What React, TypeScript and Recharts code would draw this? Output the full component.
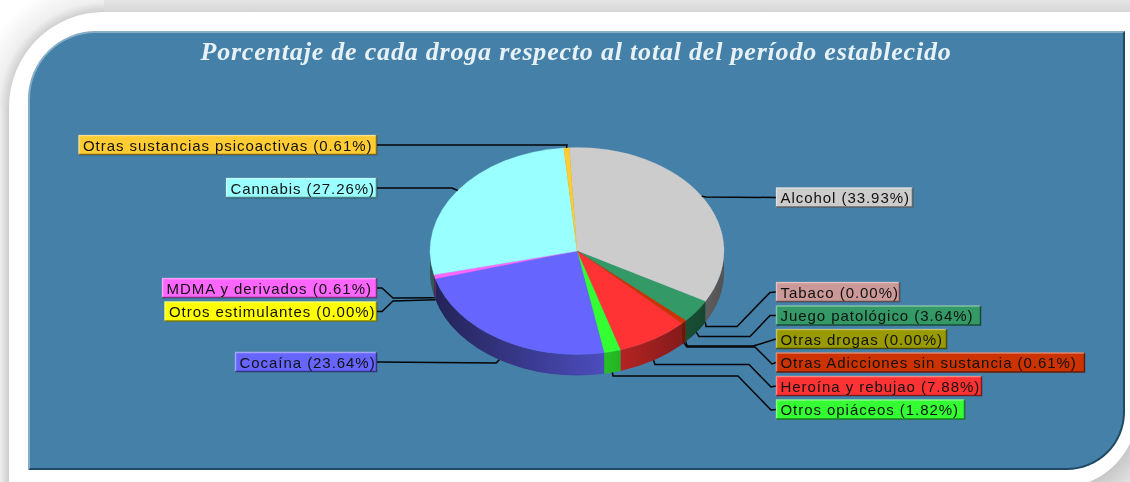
import { PieChart, Pie } from 'recharts'

const drugs = [
  'Alcohol', 'Tabaco', 'Juego patológico', 'Otras drogas', 'Otras Adicciones sin sustancia',
  'Heroína y rebujao', 'Otros opiáceos', 'Cocaína', 'Otros estimulantes', 'MDMA y derivados',
  'Cannabis', 'Otras sustancias psicoactivas',
]
const shares = [33.93, 0, 3.64, 0, 0.61, 7.88, 1.82, 23.64, 0, 0.61, 27.26, 0.61]
const colors = [
  '#cccccc', '#cc9999', '#339966', '#999900', '#cc3300', '#ff3333',
  '#33ff33', '#6666ff', '#ffff00', '#ff66ff', '#99ffff', '#ffcc33',
]

const data = drugs.map((name, i) => ({ name, value: shares[i], color: colors[i] }))

const W = 1130
const H = 482
const CX = 577
const CY = 251
const RX = 147
const RY = 103.5
const DEPTH = 21

// label box: left edge, top, width
const boxes: [number, number, number][] = [
  [776, 187.5, 137], [776, 282, 124], [776, 305.5, 205], [776, 329, 171], [776, 352.5, 309], [776, 376, 206],
  [776, 399.5, 189], [235, 352, 142], [164.5, 301.5, 212.5], [162, 278, 215], [226, 178, 151], [78.5, 135, 298.5],
]
// leader elbows between the slice and its box
const elbows: number[][][] = [
  [[706, 197]],
  [[706, 326.5], [737, 326.5], [770, 292.5]],
  [[699, 336.5], [750, 336.5], [770, 315.5]],
  [[687, 346], [753, 346], [760, 344]],
  [[687, 347], [755, 347], [772, 364]],
  [[655, 364.5], [749, 364.5], [771, 387]],
  [[613, 376], [738, 376], [771, 410]],
  [[496, 363]],
  [[393, 301], [382, 311.5]],
  [[393, 298], [382, 288]],
  [[452, 188]],
  [[567, 145]],
]

const rad = (a: number) => (a * Math.PI) / 180
const px = (a: number) => CX + RX * Math.cos(rad(a))
const py = (a: number) => CY - RY * Math.sin(rad(a))

function shade(hex: string, k: number) {
  const n = parseInt(hex.slice(1), 16)
  const c = [(n >> 16) & 255, (n >> 8) & 255, n & 255].map(v => Math.round(v * k))
  return `rgb(${c.join(',')})`
}

function TopSlice(p: any) {
  const { startAngle, endAngle, payload } = p
  if (startAngle === endAngle) return <g />
  const large = Math.abs(startAngle - endAngle) > 180 ? 1 : 0
  const d = `M${CX},${CY} L${px(startAngle)},${py(startAngle)} A${RX},${RY} 0 ${large} 1 ${px(endAngle)},${py(endAngle)} Z`
  return <path d={d} fill={payload.color} stroke={payload.color} strokeWidth={0.3} />
}

// side wall of the disc, only the part of the slice that faces front
function WallSlice(p: any) {
  const { startAngle, endAngle, payload, index } = p
  if (startAngle === endAngle) return <g />
  const segs: [number, number][] = []
  for (const k of [0, -360]) {
    const a = Math.min(startAngle, 360 + k)
    const b = Math.max(endAngle, 180 + k)
    if (a > b && a <= k + 360 && b >= k + 180) segs.push([a, b])
  }
  const id = `wall-${index}`
  return (
    <g>
      <defs>
        <linearGradient id={id} gradientUnits="userSpaceOnUse" x1={CX - RX} x2={CX + RX} y1={0} y2={0}>
          <stop offset="0" stopColor={shade(payload.color, 0.33)} />
          <stop offset="0.6" stopColor={shade(payload.color, 0.75)} />
          <stop offset="1" stopColor={shade(payload.color, 0.4)} />
        </linearGradient>
      </defs>
      {segs.map(([a, b]) => {
        const d = `M${px(a)},${py(a)} A${RX},${RY} 0 0 1 ${px(b)},${py(b)} L${px(b)},${py(b) + DEPTH} A${RX},${RY} 0 0 0 ${px(a)},${py(a) + DEPTH} Z`
        return <path key={a} d={d} fill={`url(#${id})`} />
      })}
    </g>
  )
}

function BoxLabel(p: any) {
  const { index, midAngle, name, value, payload } = p
  const [x, y, w] = boxes[index]
  const h = 20
  const left = x < CX
  const a = ((midAngle % 360) + 360) % 360
  const drop = a > 180 ? DEPTH : 0
  const pts = [[px(midAngle), py(midAngle) + drop], ...elbows[index], [left ? x + w : x, y + h / 2]]
  return (
    <g>
      <polyline points={pts.map(q => q.join(',')).join(' ')} fill="none" stroke="#050505" strokeWidth={1.5} />
      <rect x={x} y={y} width={w} height={h} fill={payload.color} />
      <path d={`M${x + 0.5},${y + h} V${y + 0.5} H${x + w}`} fill="none" stroke="#fff" strokeOpacity={0.4} strokeWidth={1.5} />
      <path d={`M${x},${y + h - 0.5} H${x + w - 0.5} V${y}`} fill="none" stroke="#000" strokeOpacity={0.5} strokeWidth={1.5} />
      <text x={x + 4.5} y={y + 15.5} fontFamily="Liberation Sans" fontSize={15} letterSpacing={0.95} fill="#111">
        {`${name} (${value.toFixed(2)}%)`}
      </text>
    </g>
  )
}

export default function App() {
  return (
    <div style={{ position: 'fixed', left: 0, top: 0, width: W, height: H, overflow: 'hidden', background: '#fff', filter: 'blur(0.35px)' }}>
      <div style={{ position: 'absolute', left: 104, top: 0, width: W, height: 12, background: 'linear-gradient(#e6e6e6,#d6d6d6)' }} />
      <div style={{ position: 'absolute', left: 0, top: 107, width: 9, height: H, background: 'linear-gradient(90deg,#efefef,#cdcdcd)' }} />
      <div style={{ position: 'absolute', left: 0, top: 0, width: 104, height: 107, background: 'radial-gradient(circle 130px at 104px 107px,#cdcdcd 94px,#efefef 105px,#fff 130px)' }} />
      <div style={{ position: 'absolute', left: 9, top: 12, width: 1140, height: 490, background: '#fff', borderRadius: '95px 0 0 0' }} />
      <div style={{ position: 'absolute', left: 1070, top: 430, width: 60, height: 52, background: 'radial-gradient(circle 105px at -10px -20px,#fff 77px,#c8c8c8 78px,#e8e8e8 105px)' }} />
      <div
        style={{
          position: 'absolute', left: 27.5, top: 31, width: 1097.5, height: 439, background: '#4580a8',
          borderRadius: '68px 0 58px 0', boxSizing: 'border-box',
          borderTop: '2px solid #86adc7', borderLeft: '2px solid #86adc7',
          borderRight: '2px solid #1f4a66', borderBottom: '2px solid #1f4a66',
        }}
      />
      <div style={{ position: 'absolute', left: 0, top: 0 }}>
        <PieChart width={W} height={H} margin={{ top: 0, right: 0, bottom: 0, left: 0 }}>
          <text x={576} y={59.5} textAnchor="middle" fontFamily="Liberation Serif" fontWeight="bold" fontStyle="italic" fontSize={26} letterSpacing={0.8} fill="#e8f2f6">
            Porcentaje de cada droga respecto al total del período establecido
          </text>
          <Pie
            data={data} dataKey="value" nameKey="name" cx={CX} cy={CY} outerRadius={RX}
            startAngle={93} endAngle={-267} stroke="none" paddingAngle={0}
            shape={WallSlice} isAnimationActive={false} label={false} labelLine={false}
          />
          <Pie
            data={data} dataKey="value" nameKey="name" cx={CX} cy={CY} outerRadius={RX}
            startAngle={93} endAngle={-267} stroke="none" paddingAngle={0}
            shape={TopSlice} isAnimationActive={false} label={BoxLabel} labelLine={false}
          />
        </PieChart>
      </div>
    </div>
  )
}
